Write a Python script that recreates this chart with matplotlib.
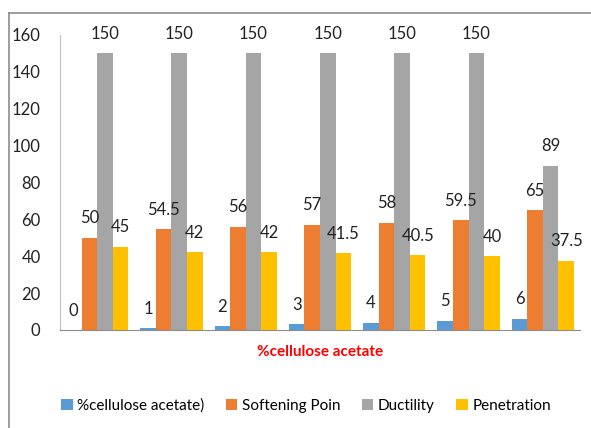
import numpy as np
import matplotlib.pyplot as plt
from matplotlib.lines import Line2D

plt.rcParams["font.family"] = ["Lato", "DejaVu Sans"]

cellulose = [0, 1, 2, 3, 4, 5, 6]
softening = [50, 54.5, 56, 57, 58, 59.5, 65]
ductility = [150, 150, 150, 150, 150, 150, 89]
penetration = [45, 42, 42, 41.5, 40.5, 40, 37.5]

series = [
    ("%cellulose acetate)", cellulose, "#5B9BD5"),
    ("Softening Poin", softening, "#ED7D31"),
    ("Ductility", ductility, "#A5A5A5"),
    ("Penetration", penetration, "#FFC000"),
]

fig = plt.figure(figsize=(5.91, 4.28), dpi=100)
ax = fig.add_axes([60 / 591, 1 - 330 / 428, 520 / 591, 295.5 / 428])

x = np.arange(len(cellulose))
w = 0.21
for k, (name, vals, col) in enumerate(series):
    pos = x + (k - 1.5) * w
    ax.bar(pos, vals, width=w, color=col, label=name)
    for p, v in zip(pos, vals):
        ax.annotate(f"{v:g}", (p, v), xytext=(0, 14), textcoords="offset points",
                    ha="center", va="center", fontsize=12, color="#222222")

ax.set_xlim(-0.5, len(cellulose) - 0.5)
ax.set_ylim(0, 160)
ax.set_yticks(range(0, 161, 20))
ax.set_xticks([])
ax.tick_params(axis="y", length=0, labelsize=12, pad=14, colors="#222222")
for s in ["top", "right"]:
    ax.spines[s].set_visible(False)
ax.spines["left"].set_color("#BFBFBF")
ax.spines["bottom"].set_color("#8C8C8C")

fig.text(320 / 591, 1 - 352 / 428, "%cellulose acetate", color="red",
         fontweight="bold", fontsize=11, ha="center", va="center")

fig.legend(loc="center", bbox_to_anchor=(306 / 591, 1 - 406 / 428), ncol=4,
           frameon=False, fontsize=11, handlelength=0.75, handleheight=0.75,
           handletextpad=0.3, columnspacing=1.4)

# outer chart border (left and top edges only)
bx, by = 9.5 / 591, 1 - 13 / 428
fig.add_artist(Line2D([bx, bx], [0, by], color="#8C8C8C", lw=1.2))
fig.add_artist(Line2D([bx, 1], [by, by], color="#8C8C8C", lw=1.2))

fig.savefig("out.png", dpi=100)
